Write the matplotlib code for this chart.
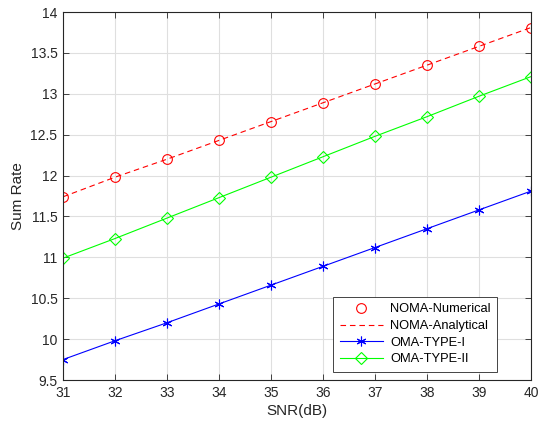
import matplotlib
matplotlib.use("Agg")
import matplotlib.pyplot as plt

plt.rcParams['font.family'] = ['Liberation Sans', 'DejaVu Sans']

snr = [31, 32, 33, 34, 35, 36, 37, 38, 39, 40]
noma_numerical = [11.74, 11.98, 12.20, 12.43, 12.66, 12.89, 13.12, 13.35, 13.58, 13.81]
noma_analytical = [11.74, 11.98, 12.20, 12.43, 12.66, 12.89, 13.12, 13.35, 13.58, 13.81]
oma_type1 = [9.75, 9.98, 10.20, 10.43, 10.66, 10.89, 11.12, 11.35, 11.58, 11.81]
oma_type2 = [10.99, 11.23, 11.48, 11.73, 11.98, 12.23, 12.48, 12.72, 12.97, 13.21]
xticks = [31, 32, 33, 34, 35, 36, 37, 38, 39, 40]
yticks = [9.5, 10, 10.5, 11, 11.5, 12, 12.5, 13, 13.5, 14]
ytick_labels = ['9.5', '10', '10.5', '11', '11.5', '12', '12.5', '13', '13.5', '14']

fig = plt.figure(figsize=(5.4, 4.26), dpi=100)
ax = fig.add_axes([63/540, 1-380/426, 468/540, 368/426])

ax.plot(snr, noma_numerical, linestyle='none', marker='o', color='red',
        markerfacecolor='none', markersize=7, markeredgewidth=0.8, label='NOMA-Numerical')
ax.plot(snr, noma_analytical, linestyle='--', color='red', linewidth=0.8,
        dashes=(5, 3.5), label='NOMA-Analytical')
ax.plot(snr, oma_type1, linestyle='-', color='blue', linewidth=0.8, marker=(6, 2, 0),
        markersize=7, markeredgewidth=0.8, label='OMA-TYPE-I')
ax.plot(snr, oma_type2, linestyle='-', color='#00ff00', linewidth=0.8, marker='D',
        markerfacecolor='none', markersize=6, markeredgewidth=0.8, label='OMA-TYPE-II')

ax.set_xlim(31, 40)
ax.set_ylim(9.5, 14)
ax.set_xticks(xticks)
ax.set_yticks(yticks)
ax.set_yticklabels(ytick_labels)
ax.grid(True, color='#dfdfdf', linewidth=0.8)
ax.set_axisbelow(True)
ax.tick_params(direction='in', top=True, right=True, labelsize=10, colors='#262626',
               length=4, width=0.6, pad=4)
for s in ax.spines.values():
    s.set_color('#262626')
    s.set_linewidth(0.8)
ax.set_xlabel('SNR(dB)', fontsize=11, color='#262626', labelpad=3)
ax.set_ylabel('Sum Rate', fontsize=11, color='#262626', labelpad=4)

leg = ax.legend(loc='lower right', bbox_to_anchor=(0.927, 0.022), fontsize=9.3,
                frameon=True, fancybox=False, edgecolor='#262626', framealpha=1,
                handlelength=3.4, borderpad=0.5, labelspacing=0.36, handletextpad=0.5,
                borderaxespad=0)
leg.get_frame().set_linewidth(0.6)

fig.savefig('out.png', dpi=100)
